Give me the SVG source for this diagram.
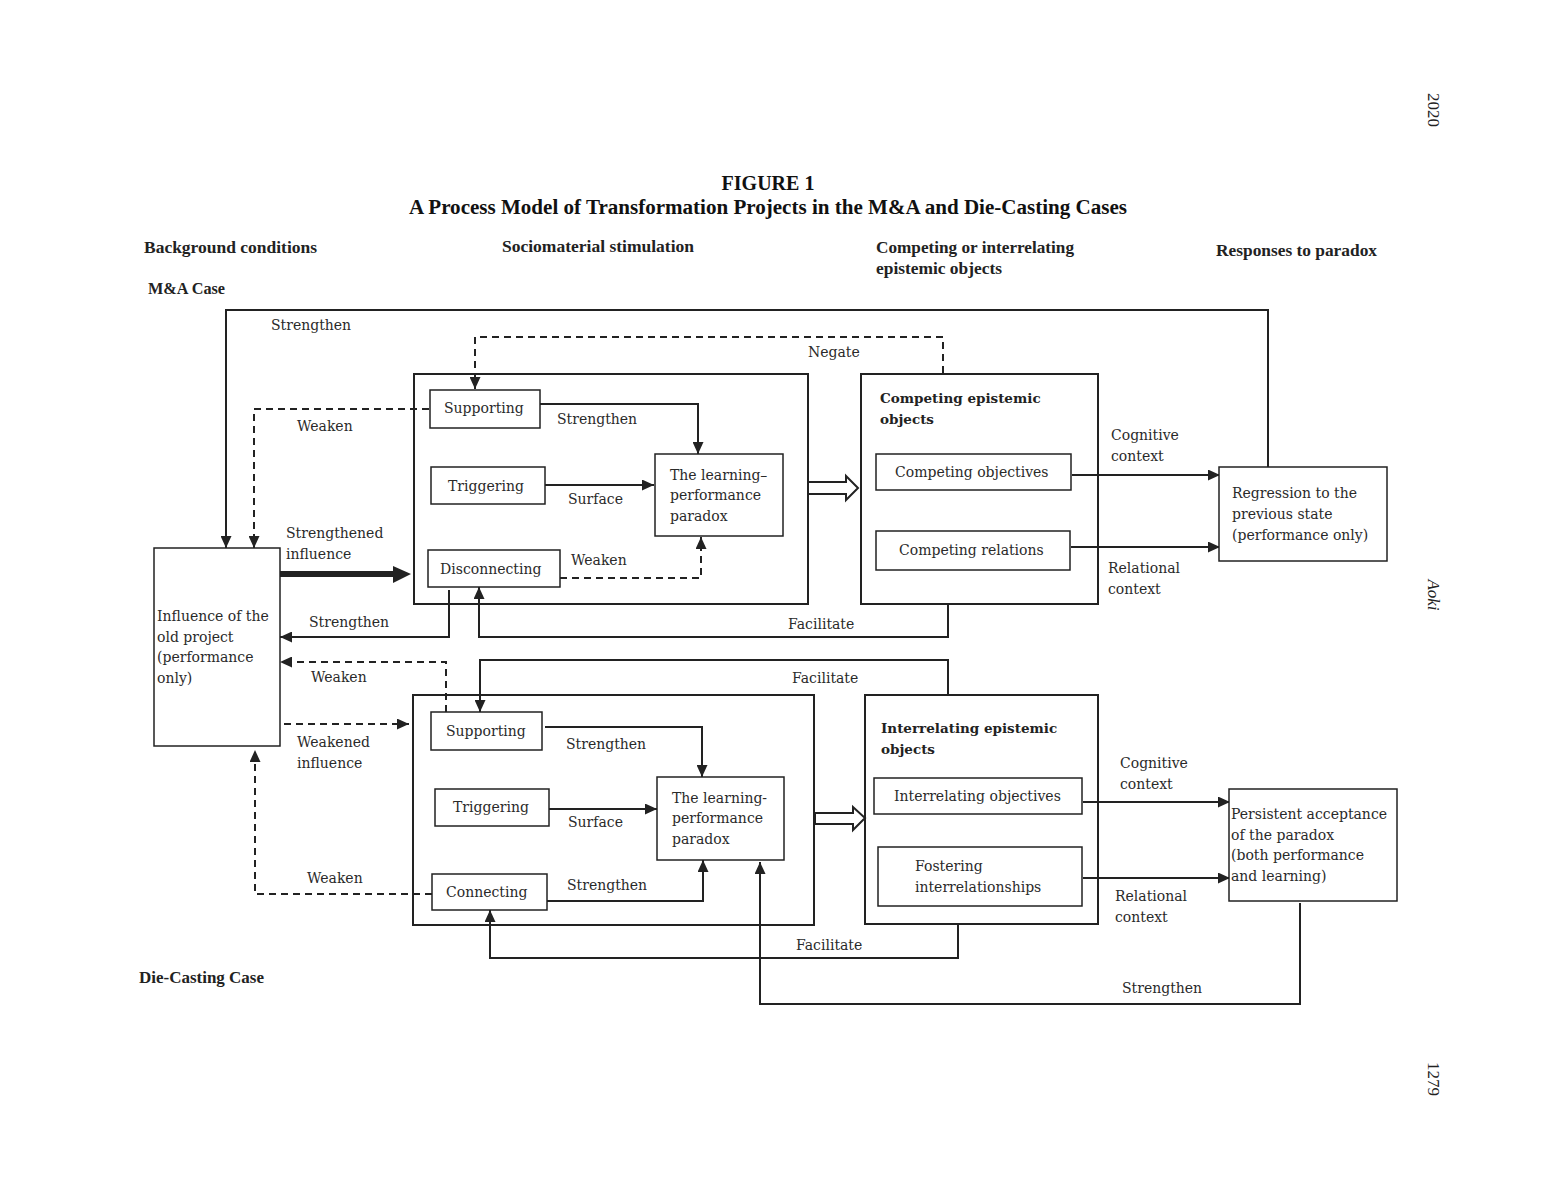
<svg xmlns="http://www.w3.org/2000/svg" width="1548" height="1188" viewBox="0 0 1548 1188">
<style>
.t{font-family:"DejaVu Serif","Liberation Serif",serif;font-size:14px;fill:#2a2a2a}
.h{font-family:"Liberation Serif","DejaVu Serif",serif;font-weight:bold;font-size:16px;fill:#222}
.hb{font-family:"DejaVu Serif","Liberation Serif",serif;font-weight:bold;font-size:13.5px;fill:#222}
.ti{font-family:"Liberation Serif","DejaVu Serif",serif;font-weight:bold;font-size:20px;fill:#111}
.pg{font-family:"Liberation Serif",serif;font-size:17px;fill:#222}
.box{fill:#fff;stroke:#222;stroke-width:1.5}
.obox{fill:none;stroke:#222;stroke-width:2}
.ln{fill:none;stroke:#222;stroke-width:2}
.ds{fill:none;stroke:#222;stroke-width:2;stroke-dasharray:7 5}
</style>
<defs>
<marker id="ah" markerUnits="userSpaceOnUse" markerWidth="12" markerHeight="11" refX="12" refY="5.5" orient="auto">
<path d="M0,0 L12,5.5 L0,11 z" fill="#222"/>
</marker>
</defs>
<rect width="1548" height="1188" fill="#fff"/>

<!-- page furniture -->
<text class="pg" transform="translate(1428,110) rotate(90)" text-anchor="middle">2020</text>
<text class="pg" transform="translate(1428,595) rotate(90)" text-anchor="middle" font-style="italic">Aoki</text>
<text class="pg" transform="translate(1428,1079) rotate(90)" text-anchor="middle">1279</text>

<!-- title and headers -->
<text class="ti" x="768" y="190" text-anchor="middle">FIGURE 1</text>
<text class="ti" x="409" y="214" textLength="718" lengthAdjust="spacingAndGlyphs">A Process Model of Transformation Projects in the M&amp;A and Die-Casting Cases</text>
<text class="h" x="144" y="253" textLength="173" lengthAdjust="spacingAndGlyphs">Background conditions</text>
<text class="h" x="502" y="252" textLength="192" lengthAdjust="spacingAndGlyphs">Sociomaterial stimulation</text>
<text class="h" x="876" y="253" textLength="198" lengthAdjust="spacingAndGlyphs">Competing or interrelating</text>
<text class="h" x="876" y="274" textLength="126" lengthAdjust="spacingAndGlyphs">epistemic objects</text>
<text class="h" x="1216" y="256" textLength="161" lengthAdjust="spacingAndGlyphs">Responses to paradox</text>
<text class="h" x="148" y="294" textLength="77" lengthAdjust="spacingAndGlyphs">M&amp;A Case</text>
<text class="h" x="139" y="983" textLength="125" lengthAdjust="spacingAndGlyphs">Die-Casting Case</text>

<!-- connectors -->
<g id="connectors">
<path class="ln" d="M1268,467 V310 H226 V548" marker-end="url(#ah)"/>
<path class="ds" d="M943,373 V337 H475 V389" marker-end="url(#ah)"/>
<path class="ds" d="M429,409 H254 V548" marker-end="url(#ah)"/>
<path d="M280,574 H394" fill="none" stroke="#222" stroke-width="6"/>
<polygon points="393,566 411,574 393,583" fill="#222"/>
<path class="ln" d="M540,404 H698 V454" marker-end="url(#ah)"/>
<path class="ln" d="M545,485 H654" marker-end="url(#ah)"/>
<path class="ds" d="M560,578 H701 V537" marker-end="url(#ah)"/>
<polygon points="808,482 846,482 846,476 858,488 846,500 846,494 808,494" fill="#fff" stroke="#222" stroke-width="2"/>
<path class="ln" d="M1072,475 H1220" marker-end="url(#ah)"/>
<path class="ln" d="M1071,547 H1220" marker-end="url(#ah)"/>
<path class="ln" d="M948,604 V637 H479 V587" marker-end="url(#ah)"/>
<path class="ln" d="M449,590 V637 H280" marker-end="url(#ah)"/>

<path class="ds" d="M446,712 V662 H280" marker-end="url(#ah)"/>
<path class="ln" d="M948,695 V660 H480 V712" marker-end="url(#ah)"/>
<path class="ds" d="M284,724 H409" marker-end="url(#ah)"/>
<path class="ds" d="M432,894 H255 V750" marker-end="url(#ah)"/>
<path class="ln" d="M545,727 H702 V777" marker-end="url(#ah)"/>
<path class="ln" d="M549,809 H657" marker-end="url(#ah)"/>
<path class="ln" d="M547,901 H703 V860" marker-end="url(#ah)"/>
<polygon points="815,813 853,813 853,807 865,818 853,830 853,824 815,824" fill="#fff" stroke="#222" stroke-width="2"/>
<path class="ln" d="M1083,802 H1230" marker-end="url(#ah)"/>
<path class="ln" d="M1083,878 H1230" marker-end="url(#ah)"/>
<path class="ln" d="M958,924 V958 H490 V910" marker-end="url(#ah)"/>
<path class="ln" d="M1300,903 V1004 H760 V862" marker-end="url(#ah)"/>

<!-- connector labels -->
<text class="t" x="271" y="330">Strengthen</text>
<text class="t" x="808" y="357">Negate</text>
<text class="t" x="297" y="431">Weaken</text>
<text class="t" x="557" y="424">Strengthen</text>
<text class="t" x="568" y="504">Surface</text>
<text class="t" x="286" y="538">Strengthened</text>
<text class="t" x="286" y="559">influence</text>
<text class="t" x="571" y="565">Weaken</text>
<text class="t" x="1111" y="440">Cognitive</text>
<text class="t" x="1111" y="461">context</text>
<text class="t" x="1108" y="573">Relational</text>
<text class="t" x="1108" y="594">context</text>
<text class="t" x="788" y="629">Facilitate</text>
<text class="t" x="309" y="627">Strengthen</text>
<text class="t" x="311" y="682">Weaken</text>
<text class="t" x="792" y="683">Facilitate</text>
<text class="t" x="297" y="747">Weakened</text>
<text class="t" x="297" y="768">influence</text>
<text class="t" x="566" y="749">Strengthen</text>
<text class="t" x="568" y="827">Surface</text>
<text class="t" x="567" y="890">Strengthen</text>
<text class="t" x="307" y="883">Weaken</text>
<text class="t" x="1120" y="768">Cognitive</text>
<text class="t" x="1120" y="789">context</text>
<text class="t" x="1115" y="901">Relational</text>
<text class="t" x="1115" y="922">context</text>
<text class="t" x="796" y="950">Facilitate</text>
<text class="t" x="1122" y="993">Strengthen</text>
</g>

<!-- M&A case nodes -->
<g id="influence">
<rect class="box" x="154" y="548" width="126" height="198"/>
<text class="t" x="157" y="621">Influence of the</text>
<text class="t" x="157" y="642">old project</text>
<text class="t" x="157" y="662">(performance</text>
<text class="t" x="157" y="683">only)</text>
</g>
<g id="ma-stimulation">
<rect class="obox" x="414" y="374" width="394" height="230"/>
</g>
<g id="ma-supporting">
<rect class="box" x="430" y="390" width="110" height="38"/>
<text class="t" x="444" y="413">Supporting</text>
</g>
<g id="ma-triggering">
<rect class="box" x="431" y="467" width="114" height="37"/>
<text class="t" x="448" y="491">Triggering</text>
</g>
<g id="ma-disconnecting">
<rect class="box" x="428" y="550" width="132" height="37"/>
<text class="t" x="440" y="574">Disconnecting</text>
</g>
<g id="ma-paradox">
<rect class="box" x="655" y="454" width="128" height="82"/>
<text class="t" x="670" y="480">The learning–</text>
<text class="t" x="670" y="500">performance</text>
<text class="t" x="670" y="521">paradox</text>
</g>
<g id="competing">
<rect class="obox" x="861" y="374" width="237" height="230"/>
<text class="hb" x="880" y="403">Competing epistemic</text>
<text class="hb" x="880" y="424">objects</text>
</g>
<g id="competing-objectives">
<rect class="box" x="876" y="454" width="195" height="36"/>
<text class="t" x="895" y="477">Competing objectives</text>
</g>
<g id="competing-relations">
<rect class="box" x="876" y="531" width="194" height="39"/>
<text class="t" x="899" y="555">Competing relations</text>
</g>
<g id="regression">
<rect class="box" x="1219" y="467" width="168" height="94"/>
<text class="t" x="1232" y="498">Regression to the</text>
<text class="t" x="1232" y="519">previous state</text>
<text class="t" x="1232" y="540">(performance only)</text>
</g>

<!-- Die-casting case nodes -->
<g id="dc-stimulation">
<rect class="obox" x="413" y="695" width="401" height="230"/>
</g>
<g id="dc-supporting">
<rect class="box" x="431" y="712" width="111" height="38"/>
<text class="t" x="446" y="736">Supporting</text>
</g>
<g id="dc-triggering">
<rect class="box" x="435" y="789" width="114" height="37"/>
<text class="t" x="453" y="812">Triggering</text>
</g>
<g id="dc-connecting">
<rect class="box" x="432" y="874" width="115" height="36"/>
<text class="t" x="446" y="897">Connecting</text>
</g>
<g id="dc-paradox">
<rect class="box" x="657" y="777" width="127" height="83"/>
<text class="t" x="672" y="803">The learning-</text>
<text class="t" x="672" y="823">performance</text>
<text class="t" x="672" y="844">paradox</text>
</g>
<g id="interrelating">
<rect class="obox" x="865" y="695" width="233" height="229"/>
<text class="hb" x="881" y="733">Interrelating epistemic</text>
<text class="hb" x="881" y="754">objects</text>
</g>
<g id="interrelating-objectives">
<rect class="box" x="874" y="778" width="208" height="36"/>
<text class="t" x="894" y="801">Interrelating objectives</text>
</g>
<g id="fostering">
<rect class="box" x="878" y="847" width="204" height="59"/>
<text class="t" x="915" y="871">Fostering</text>
<text class="t" x="915" y="892">interrelationships</text>
</g>
<g id="persistent">
<rect class="box" x="1229" y="789" width="168" height="112"/>
<text class="t" x="1231" y="819">Persistent acceptance</text>
<text class="t" x="1231" y="840">of the paradox</text>
<text class="t" x="1231" y="860">(both performance</text>
<text class="t" x="1231" y="881">and learning)</text>
</g>
</svg>
